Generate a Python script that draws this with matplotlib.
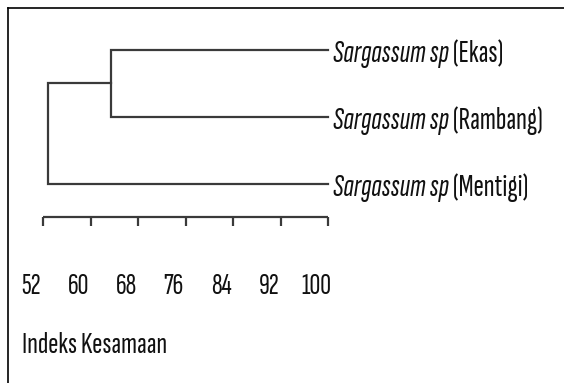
import matplotlib
matplotlib.use('Agg')
import matplotlib.pyplot as plt
from matplotlib.transforms import ScaledTranslation
from matplotlib.lines import Line2D

# Data: dendrogram (leaves top to bottom)
leaf_names = ['Ekas', 'Rambang', 'Mentigi']
leaf_pos = [0, 1, 2]
merge_inner = 63.4   # Ekas + Rambang
merge_root = 52.8    # (Ekas,Rambang) + Mentigi
leaf_level = 100
tick_vals = [52, 60, 68, 76, 84, 92, 100]
scale_y = 2.49

font = ['Sofia Sans Extra Condensed', 'Archivo Narrow', 'DejaVu Sans']
line_col = '#3a3a3a'
txt_col = '#111111'

fig = plt.figure(figsize=(5.64, 3.83), dpi=100)
ax = fig.add_axes([0, 0, 1, 1])
ax.set_xlim(44.71, 44.71 + 564 / 5.9375)
ax.set_ylim(4.97, -0.746)
ax.patch.set_visible(False)
ax.yaxis.set_visible(False)
ax.set_frame_on(False)
renderer = fig.canvas.get_renderer()


def fit_size(text, width_px, style='normal'):
    # font size that gives the text the wanted pixel width
    t = fig.text(0, 0, text, family=font, fontsize=10, fontstyle=style)
    w = t.get_window_extent(renderer).width
    t.remove()
    return 10 * width_px / w


# branches
y_inner = (leaf_pos[0] + leaf_pos[1]) / 2
ax.plot([leaf_level, merge_inner, merge_inner, leaf_level],
        [leaf_pos[0], leaf_pos[0], leaf_pos[1], leaf_pos[1]],
        color=line_col, lw=1.6, solid_joinstyle='miter')
ax.plot([merge_inner, merge_root, merge_root, leaf_level],
        [y_inner, y_inner, leaf_pos[2], leaf_pos[2]],
        color=line_col, lw=1.6, solid_joinstyle='miter')

# labels: italic genus + regular site
# width of "Sargassum sp (Rambang)" in the reference is about 210 px
t1 = fig.text(0, 0, 'Sargassum sp', family=font, fontsize=10, fontstyle='italic')
t2 = fig.text(0, 0, ' (Rambang)', family=font, fontsize=10)
w10 = t1.get_window_extent(renderer).width + t2.get_window_extent(renderer).width
t1.remove()
t2.remove()
lab_size = 10 * 210 / w10

for name, y in zip(leaf_names, leaf_pos):
    t = ax.text(leaf_level + 0.8, y + 0.18, 'Sargassum sp', fontstyle='italic',
                family=font, fontsize=lab_size, va='baseline', color=txt_col)
    bb = t.get_window_extent(renderer)
    x_end = ax.transData.inverted().transform((bb.x1, bb.y0))[0]
    ax.text(x_end, y + 0.18, ' (' + name + ')', family=font, fontsize=lab_size,
            va='baseline', color=txt_col)

# scale axis (ticks follow the bottom spine position)
ax.spines['bottom'].set_position(('data', scale_y))
ax.hlines(scale_y, tick_vals[0], tick_vals[-1], color=line_col, lw=1.6)
ax.set_xticks(tick_vals)
tick_size = fit_size('100', 30)
ax.set_xticklabels([str(v) for v in tick_vals], family=font, fontsize=tick_size)
ax.tick_params(axis='x', direction='out', length=6.5, width=1.6,
               color=line_col, pad=34, labelcolor=txt_col)
for lab in ax.get_xticklabels():
    lab.set_transform(lab.get_transform() + ScaledTranslation(-0.12, 0, fig.dpi_scale_trans))

fig.text(22 / 564, 1 - 353 / 383, 'Indeks Kesamaan', family=font,
         fontsize=fit_size('Indeks Kesamaan', 145), va='baseline', ha='left', color=txt_col)

# frame
fig.add_artist(Line2D([8 / 564, 8 / 564], [0, 1 - 8 / 383], color='black', lw=1.2))
fig.add_artist(Line2D([8 / 564, 1], [1 - 8 / 383, 1 - 8 / 383], color='black', lw=1.2))

fig.savefig('out.png', dpi=100)
